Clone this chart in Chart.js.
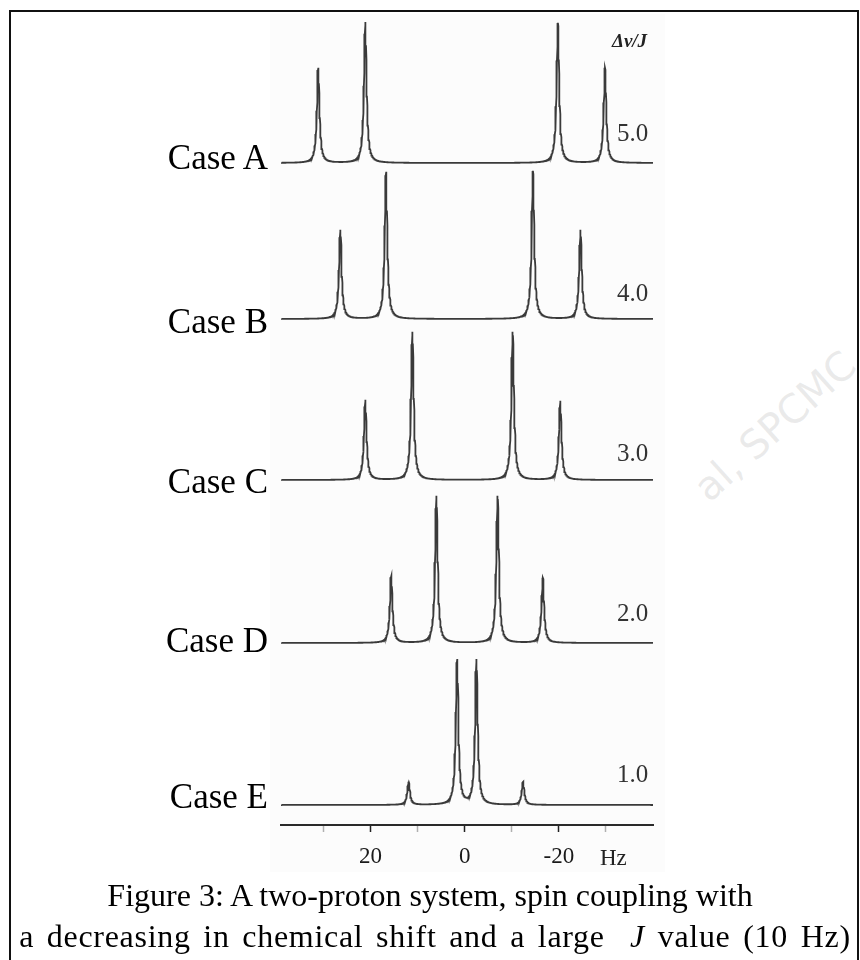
<!DOCTYPE html>
<html>
<head>
<meta charset="utf-8">
<script src="https://cdn.jsdelivr.net/npm/chart.js@4.4.1/dist/chart.umd.min.js"></script>
<style>
  html, body { margin: 0; padding: 0; background: #fff; }
  body { width: 860px; height: 960px; position: relative; overflow: hidden;
         font-family: "Liberation Serif", "Times New Roman", serif; color: #000; }
  #frame { position: absolute; left: 9px; top: 10px; width: 850px; height: 1000px;
           border: 2px solid #111; border-bottom: none; box-sizing: border-box; }
  #scan { position: absolute; left: 270px; top: 14px; width: 395px; height: 858px; background: #fcfcfc; }
  #chartBox { position: absolute; left: 0; top: 0; width: 860px; height: 960px; }
  .lbl { position: absolute; line-height: 1; white-space: nowrap; transform: translateY(-50%); }
  .case { font-size: 35px; text-align: right; width: 260px; left: 8px; }
  .ratio { font-size: 25px; color: #333; left: 617px; }
  #hdr { font-size: 19px; font-weight: bold; font-style: italic; color: #222; left: 612px; top: 40px; }
  #hz { font-size: 23px; color: #222; left: 600px; top: 857px; }
  .cap { font-size: 32px; left: 0; width: 860px; text-align: center; }
  #wm { position: absolute; left: 700px; top: 470px; font-family: "DejaVu Sans", sans-serif; font-size: 40px;
        color: rgba(160,160,160,0.22); transform: rotate(-42deg); transform-origin: left center; white-space: nowrap; }
</style>
</head>
<body>
<div id="scan"></div>
<div id="frame"></div>
<div id="wm">al, SPCMC</div>
<div id="chartBox"><canvas id="c" width="860" height="960"></canvas></div>
<div id="labels"></div>
<div class="lbl" id="hdr">&Delta;&nu;/J</div>
<div class="lbl" id="hz">Hz</div>
<div class="lbl cap" style="top:895px;left:0px;">Figure 3: A two-proton system, spin coupling with</div>
<div class="lbl cap" style="top:936px;left:5px;word-spacing:4px;letter-spacing:0.7px;">a decreasing in chemical shift and a large &nbsp;<i>J</i> value (10 Hz)</div>
<script>
// ---- data ----
const cases = ['Case A', 'Case B', 'Case C', 'Case D', 'Case E'];
const ratioLabels = ['5.0', '4.0', '3.0', '2.0', '1.0'];
// peak positions (Hz) for each spectrum
const peakPosA = [31.1, 21.1, -19.8, -29.8];
const peakPosB = [26.4, 16.7, -14.5, -24.6];
const peakPosC = [21.1, 11.1, -10.2, -20.3];
const peakPosD = [15.6, 6.0, -7.0, -16.6];
const peakPosE = [11.9, 1.6, -2.5, -12.4];
// peak heights (relative intensity, same units for all spectra)
const peakHtA = [95, 141, 140, 95];
const peakHtB = [89, 147, 148, 89];
const peakHtC = [80, 148, 148, 79];
const peakHtD = [67, 147, 147, 65];
const peakHtE = [23, 145, 145, 23];
const xTickLabels = { '20': '20', '0': '0', '-20': '-20' };

// ---- layout / style ----
const baselinePx = [163, 319, 480, 643, 805];   // where each trace sits
const labelCenterPx = [157, 321, 481, 640, 796];
const ratioCenterPx = [132, 292, 452, 612, 773];
const lineHalfWidth = 0.33; // Hz, Lorentzian half-width (line-shape style)

const peakPos = [peakPosA, peakPosB, peakPosC, peakPosD, peakPosE];
const peakHt = [peakHtA, peakHtB, peakHtC, peakHtD, peakHtE];

const labelsDiv = document.getElementById('labels');
cases.forEach((c, i) => {
  const d = document.createElement('div');
  d.className = 'lbl case'; d.textContent = c; d.style.top = labelCenterPx[i] + 'px';
  labelsDiv.appendChild(d);
  const r = document.createElement('div');
  r.className = 'lbl ratio'; r.textContent = ratioLabels[i]; r.style.top = ratioCenterPx[i] + 'px';
  labelsDiv.appendChild(r);
});

function trace(i) {
  const pos = peakPos[i], ht = peakHt[i];
  const xs = [];
  for (let k = 0; k <= 1580; k++) xs.push(-40 + k * 0.05);
  pos.forEach(p => xs.push(p));
  xs.sort((a, b) => a - b);
  const w2 = lineHalfWidth * lineHalfWidth;
  return xs.map(x => {
    let s = 0;
    for (let j = 0; j < pos.length; j++) s += ht[j] * w2 / ((x - pos[j]) * (x - pos[j]) + w2);
    return { x: x, y: baselinePx[i] - s };
  });
}

const datasets = cases.map((c, i) => ({
  label: c, data: trace(i), showLine: true, pointRadius: 0,
  borderColor: '#3a3a3a', borderWidth: 1.8, tension: 0, fill: false
}));

new Chart(document.getElementById('c'), {
  type: 'scatter',
  data: { datasets },
  options: {
    responsive: false, animation: false, events: [],
    layout: { padding: { left: 281, right: 207, top: 12, bottom: 90 } },
    plugins: { legend: { display: false }, tooltip: { enabled: false } },
    scales: {
      y: { display: false, reverse: true, min: 12, max: 825 },
      x: {
        type: 'linear', reverse: true, min: -40, max: 39,
        afterFit: (s) => { s.height = 45; },
        border: { display: true, color: '#2a2a2a', width: 2 },
        grid: {
          drawOnChartArea: false, drawTicks: true, tickLength: 7,
          tickColor: (ctx) => {
            const v = ctx.tick ? ctx.tick.value : null;
            if (v === 20 || v === 0 || v === -20) return '#222';
            if (v === -40) return 'rgba(0,0,0,0)';
            return 'rgba(0,0,0,0.3)';
          },
          tickWidth: 1.5
        },
        ticks: {
          stepSize: 10, includeBounds: false, autoSkip: false, maxRotation: 0,
          padding: 11, color: '#1a1a1a',
          font: { family: '"Liberation Serif", "Times New Roman", serif', size: 23 },
          callback: (v) => (xTickLabels[String(v)] !== undefined ? xTickLabels[String(v)] : '')
        }
      }
    }
  }
});
</script>
</body>
</html>
